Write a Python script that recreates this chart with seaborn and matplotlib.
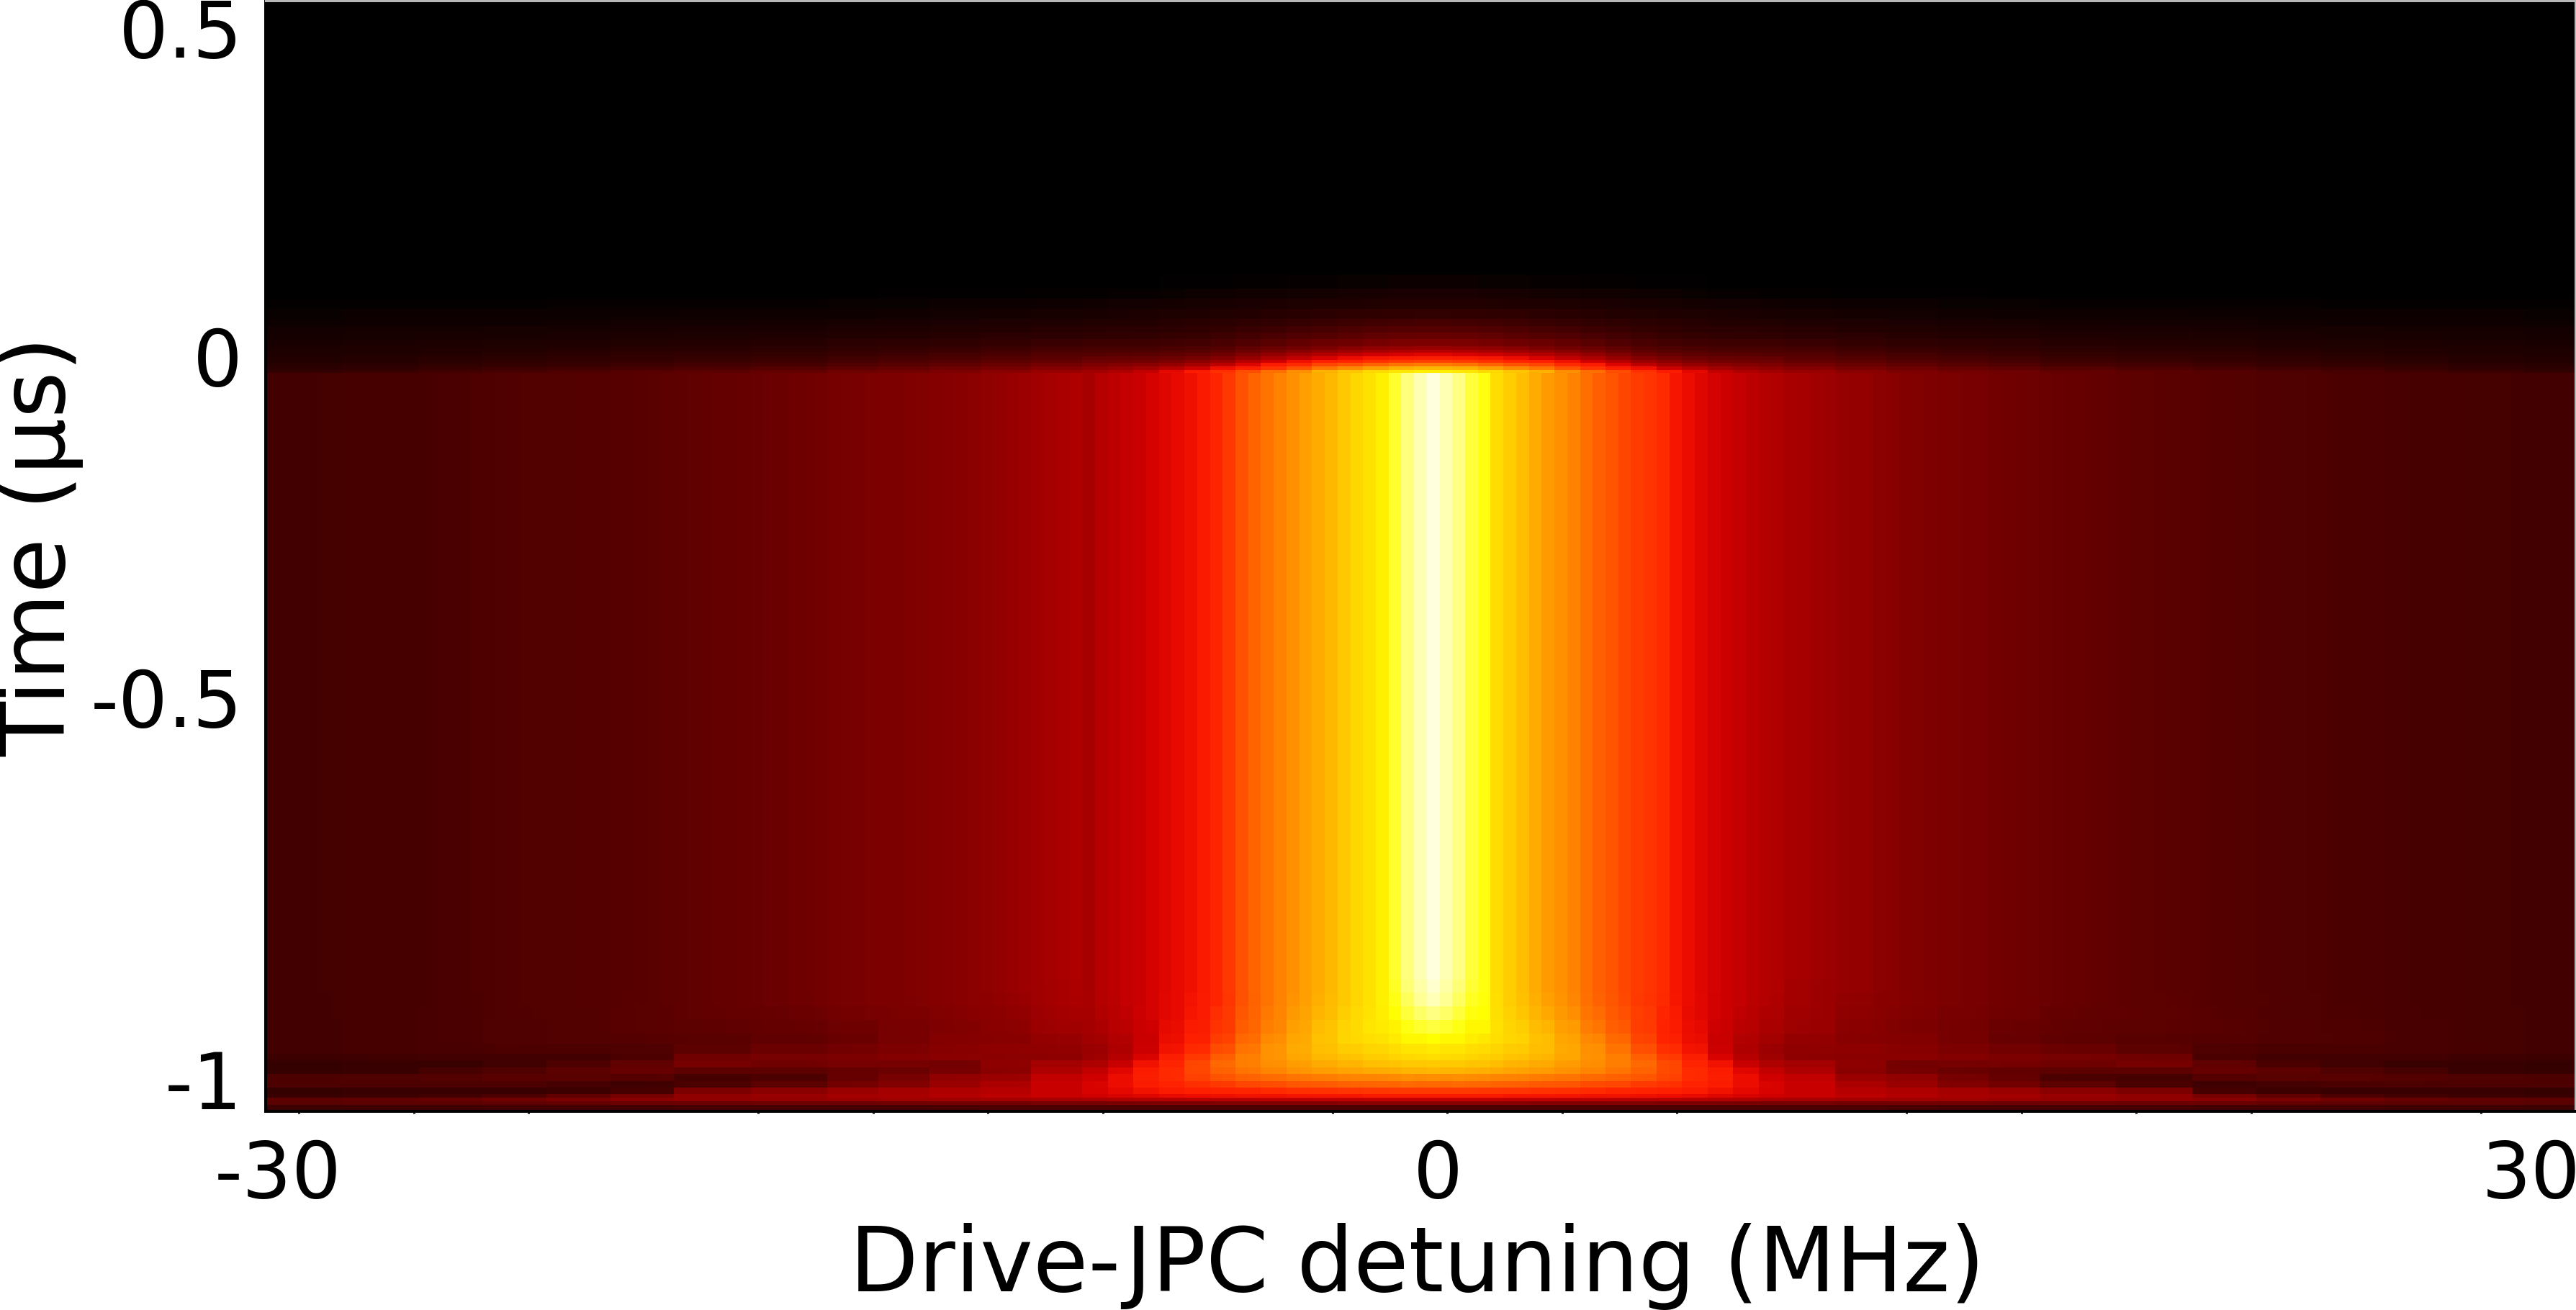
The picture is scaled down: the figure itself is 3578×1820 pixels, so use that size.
import numpy as np
import seaborn as sns
import matplotlib.pyplot as plt
from matplotlib.colors import LinearSegmentedColormap

# column profile on the plateau (-1 us < t < 0), left edge to right edge
plateau_left = [.085, .085, .086, .087, .088, .089, .090, .090, .091, .091, .092, .092,
                .093, .094, .096, .098, .100, .102, .104, .106, .108, .109, .110, .111,
                .112, .113, .115, .116, .117, .119, .121, .124, .127, .130, .133, .135,
                .137, .140, .142, .145, .148, .152, .155, .159, .163, .166, .168, .171,
                .173, .175, .178, .181, .184, .186, .191, .197, .203, .208, .215, .222,
                .230, .238, .244, .250]
plateau_core = [.238, .260, .270, .285, .292, .307, .320, .330, .340, .360, .410, .447,
                .485, .515, .537, .560, .582, .604, .620, .640, .664, .686, .700, .724,
                .790, .870, .925, .965, .925, .875, .806, .760, .694, .671, .649, .620,
                .597, .582, .560, .530, .507, .492, .470, .455, .440]
plateau_right = [.420, .350, .335, .320, .305, .295, .285, .270, .258, .252, .240, .237,
                 .228, .222, .213, .210, .207, .197, .192, .183, .180, .177, .174, .171,
                 .168, .165, .158, .155, .152, .150, .145, .142, .139, .136, .133, .130,
                 .128, .126, .124, .122, .120, .118, .116, .114, .112, .110, .108, .107,
                 .106, .105, .104, .103, .100, .099, .098, .097, .096, .095, .094, .093,
                 .092, .091, .090, .089, .089, .088, .088, .087, .087, .086, .086, .086]

# distance from the centre column, in columns per node of the two tables below
node_widths = [2] * 14 + [4] * 5 + [6, 6, 5, 5, 5, 5, 6, 6]
node_plateau = [.945, .83, .71, .675, .63, .593, .55, .50, .43, .35, .325, .30, .277, .25,
                .24, .21, .19, .175, .165, .145, .133, .12, .112, .105, .096, .09, .086]

# fade above t=0, one list per node, one value per row band
fade_counts = [4, 3, 3, 3, 2, 2, 2, 2, 1, 1, 1, 1, 1, 1, 1, 1]
fade_nodes = [
    [.010, .025, .037, .060, .090, .115, .140, .175, .220, .260, .320, .380, .460, .550, .640, .720],
    [.010, .024, .036, .058, .087, .112, .136, .170, .213, .252, .310, .370, .450, .540, .630, .710],
    [.009, .023, .034, .056, .083, .107, .130, .163, .204, .242, .298, .355, .430, .515, .600, .690],
    [.008, .021, .032, .053, .077, .100, .122, .154, .190, .226, .280, .335, .405, .490, .570, .660],
    [.006, .018, .030, .050, .070, .090, .115, .145, .175, .210, .260, .310, .380, .470, .540, .630],
    [.006, .017, .028, .046, .066, .084, .106, .133, .160, .190, .235, .280, .340, .420, .490, .580],
    [.005, .015, .026, .042, .060, .076, .096, .120, .145, .170, .210, .250, .300, .365, .440, .530],
    [.004, .014, .024, .039, .055, .069, .085, .107, .130, .150, .180, .215, .260, .315, .390, .480],
    [.003, .012, .022, .035, .050, .062, .075, .095, .115, .130, .155, .185, .220, .270, .340, .430],
    [.002, .010, .020, .031, .046, .057, .068, .087, .105, .118, .140, .165, .195, .235, .295, .370],
    [.002, .009, .018, .028, .042, .052, .063, .080, .098, .110, .128, .150, .175, .210, .260, .325],
    [.001, .007, .017, .026, .039, .049, .059, .077, .093, .105, .122, .142, .160, .190, .230, .280],
    [.000, .006, .016, .024, .037, .047, .057, .075, .091, .102, .118, .138, .155, .180, .212, .250],
    [.000, .005, .015, .022, .035, .045, .055, .075, .090, .100, .115, .135, .150, .175, .200, .230],
    [.000, .004, .013, .020, .032, .042, .052, .070, .085, .095, .108, .122, .138, .160, .185, .215],
    [.000, .003, .011, .018, .029, .038, .047, .062, .075, .085, .097, .110, .124, .143, .165, .190],
    [.000, .002, .010, .016, .025, .034, .042, .056, .068, .077, .088, .099, .112, .128, .150, .172],
    [.000, .002, .009, .014, .022, .031, .038, .051, .062, .070, .080, .090, .102, .117, .137, .160],
    [.000, .001, .008, .013, .020, .028, .034, .047, .056, .064, .072, .082, .092, .106, .125, .150],
    [.000, .001, .007, .012, .018, .025, .030, .041, .049, .055, .062, .070, .079, .091, .109, .133],
    [.000, .001, .007, .012, .017, .024, .029, .038, .046, .052, .058, .066, .074, .085, .101, .122],
    [.000, .001, .006, .011, .016, .023, .027, .035, .042, .047, .053, .060, .067, .077, .092, .112],
    [.000, .000, .006, .011, .014, .021, .024, .031, .037, .042, .047, .053, .059, .068, .082, .100],
    [.000, .000, .005, .010, .013, .020, .023, .029, .035, .039, .043, .049, .053, .062, .075, .092],
    [.000, .000, .005, .010, .013, .019, .022, .027, .032, .036, .039, .045, .048, .056, .067, .082],
    [.000, .000, .005, .010, .012, .018, .020, .025, .030, .032, .035, .040, .042, .050, .058, .070],
    [.000, .000, .004, .009, .011, .016, .018, .022, .026, .028, .031, .035, .037, .044, .051, .060],
]

# onset near t=-1, one list per row band (top to bottom), one value per node
onset_counts = [4, 4, 4, 4, 4, 3, 3, 2, 2, 2, 2, 2, 2, 1, 1, 1, 2]
stripe_keep = [1, 1, .9, .7, .45, .25, .15, .1, .1, .1, .1, .1, 0, 0, 0, 0, 0]
onset_rows = [
    [.945, .83, .71, .675, .63, .593, .55, .50, .43, .35, .325, .30, .277, .25, .24, .21, .19, .175, .165, .145, .133, .12, .112, .105, .096, .09, .086],
    [.93, .82, .71, .675, .63, .593, .55, .50, .43, .35, .325, .30, .277, .25, .235, .21, .19, .175, .165, .145, .133, .12, .112, .105, .096, .09, .086],
    [.91, .80, .71, .675, .635, .595, .55, .50, .43, .355, .325, .30, .275, .25, .235, .205, .19, .175, .165, .145, .133, .12, .112, .105, .096, .09, .086],
    [.86, .775, .71, .68, .64, .60, .555, .505, .44, .36, .325, .30, .27, .245, .23, .20, .185, .17, .16, .14, .133, .12, .11, .105, .096, .09, .086],
    [.80, .745, .71, .685, .65, .61, .56, .51, .445, .37, .33, .295, .265, .24, .225, .195, .18, .165, .15, .135, .128, .12, .11, .105, .096, .09, .086],
    [.74, .725, .70, .685, .655, .615, .575, .525, .46, .39, .335, .29, .255, .23, .21, .19, .185, .165, .145, .13, .12, .115, .108, .105, .096, .09, .086],
    [.71, .70, .685, .67, .65, .62, .585, .54, .48, .42, .345, .295, .25, .22, .205, .20, .19, .175, .16, .145, .125, .105, .10, .10, .095, .09, .085],
    [.695, .685, .67, .655, .64, .615, .585, .555, .505, .45, .38, .31, .26, .225, .20, .195, .195, .185, .175, .165, .155, .10, .085, .085, .085, .08, .075],
    [.665, .66, .65, .635, .62, .60, .58, .555, .52, .47, .41, .345, .29, .25, .235, .20, .16, .165, .165, .155, .165, .13, .10, .08, .07, .07, .065],
    [.635, .63, .62, .61, .60, .585, .565, .54, .51, .47, .42, .37, .32, .28, .25, .195, .165, .145, .135, .125, .125, .14, .125, .105, .09, .07, .065],
    [.575, .575, .565, .56, .55, .54, .525, .51, .49, .46, .42, .38, .335, .30, .28, .22, .205, .165, .14, .10, .09, .115, .12, .12, .11, .105, .10],
    [.52, .52, .515, .51, .50, .495, .48, .47, .45, .43, .40, .37, .335, .31, .29, .245, .22, .18, .16, .125, .10, .08, .09, .10, .10, .10, .10],
    [.45, .45, .445, .44, .435, .43, .42, .41, .40, .385, .365, .345, .325, .31, .29, .26, .25, .235, .22, .195, .175, .09, .075, .07, .07, .07, .065],
    [.36, .36, .36, .355, .35, .35, .345, .345, .34, .335, .33, .32, .31, .30, .29, .27, .255, .24, .235, .215, .205, .165, .13, .10, .085, .075, .07],
    [.28, .28, .28, .275, .275, .27, .27, .265, .265, .26, .26, .255, .25, .245, .24, .235, .23, .225, .22, .21, .205, .19, .17, .155, .14, .13, .125],
    [.19, .19, .19, .19, .185, .185, .18, .18, .18, .175, .175, .17, .17, .165, .165, .16, .16, .155, .15, .15, .145, .145, .135, .13, .125, .125, .12],
    [.10, .10, .10, .10, .10, .10, .10, .10, .10, .10, .10, .10, .10, .10, .10, .10, .095, .09, .09, .09, .09, .085, .085, .085, .08, .08, .075],
]

black_rows = 81
plateau_rows = 175
peak_col = 91

x_minor_mhz = np.arange(-29.3, 30, 3)
x_major_mhz = [-20.3, -5.3, 9.7, 24.7]
y_ticks_us = np.arange(-1, 0.5, 0.2)
t_top, t_bottom = 0.506, -1.005

x_tick_text = ['-30', '0', '30']
x_tick_px = [386, 1997, 3516]
y_tick_text = ['0.5', '0', '-0.5', '-1']
y_tick_px = [50, 506, 980, 1511]

W, H = 3578, 1820

plateau = np.array(plateau_left + plateau_core + plateau_right)
col_node = np.repeat(np.arange(len(node_widths)), node_widths)[np.abs(np.arange(len(plateau)) - peak_col)]
stripes = plateau - np.array(node_plateau)[col_node]

fade = np.array(fade_nodes).T[:, col_node]
onset = np.array(onset_rows)[:, col_node] + np.outer(stripe_keep, stripes)

Z = np.vstack([
    np.zeros((black_rows, len(plateau))),
    np.repeat(fade, fade_counts, axis=0),
    np.tile(plateau, (plateau_rows, 1)),
    np.repeat(onset, onset_counts, axis=0),
])
n_rows, n_cols = Z.shape

# like "hot", but truly black at zero and with no pure red step
heat = LinearSegmentedColormap.from_list('heat', [
    (0, (0, 0, 0)),
    (.02, (24 / 255, 0, 0)),
    (.30, (208 / 255, 0, 0)),
    (.32, (225 / 255, 6 / 255, 0)),
    (.34, (240 / 255, 16 / 255, 0)),
    (.36, (250 / 255, 26 / 255, 0)),
    (.41, (1, 36 / 255, 0)),
    (.447, (1, 55 / 255, 0)),
    (.746, (1, 1, 0)),
    (1, (1, 1, 1)),
], N=512)

sns.set_theme(style="white")
plt.rcParams['font.family'] = ['DejaVu Sans']

fig = plt.figure(figsize=(W / 100, H / 100), dpi=100)
ax = fig.add_axes([369 / W, 1 - 1544 / H, (3577 - 369) / W, (1544 - 1) / H])
sns.heatmap(Z, cmap=heat, vmin=0, vmax=1, cbar=False, xticklabels=False, yticklabels=False, ax=ax)


def x_pos(mhz):
    return (np.asarray(mhz) + 30) * 3 + 0.5


def y_pos(us):
    return (t_top - np.asarray(us)) / (t_top - t_bottom) * n_rows


ax.set_xticks(x_pos(x_major_mhz))
ax.set_xticks(x_pos(x_minor_mhz), minor=True)
ax.set_yticks(y_pos(y_ticks_us))
ax.tick_params(axis='x', which='major', direction='in', length=9.5, width=2.2, color='black', bottom=True)
ax.tick_params(axis='x', which='minor', direction='out', length=2.5, width=2.2, color='black', bottom=True)
ax.tick_params(axis='y', which='major', direction='in', length=8, width=2.2, color='black', left=True)

for side, spine in ax.spines.items():
    spine.set_visible(True)
    spine.set_linewidth(2.9 if side in ('left', 'bottom') else 2.2)
    spine.set_color('black' if side in ('left', 'bottom') else '#b8b8b8')

tick_pt = 78
for txt, px in zip(x_tick_text, x_tick_px):
    fig.text(px / W, 1 - 1634 / H, txt, ha='center', va='center', fontsize=tick_pt, color='black')
for txt, py in zip(y_tick_text, y_tick_px):
    fig.text(337 / W, 1 - py / H, txt, ha='right', va='center', fontsize=tick_pt, color='black')

ax.set_xlabel('Drive-JPC detuning (MHz)', fontsize=89.5, color='black')
ax.set_ylabel('Time (µs)', fontsize=89.5, color='black')
ax.xaxis.set_label_coords((1968 - 369) / (3577 - 369), -(1759 - 1544) / 1543, transform=ax.transAxes)
ax.yaxis.set_label_coords(-(369 - 56) / (3577 - 369), (1544 - 759) / 1543, transform=ax.transAxes)
ax.xaxis.label.set_va('center')
ax.yaxis.label.set_va('center')

fig.savefig('out.png', dpi=100, facecolor='white')
